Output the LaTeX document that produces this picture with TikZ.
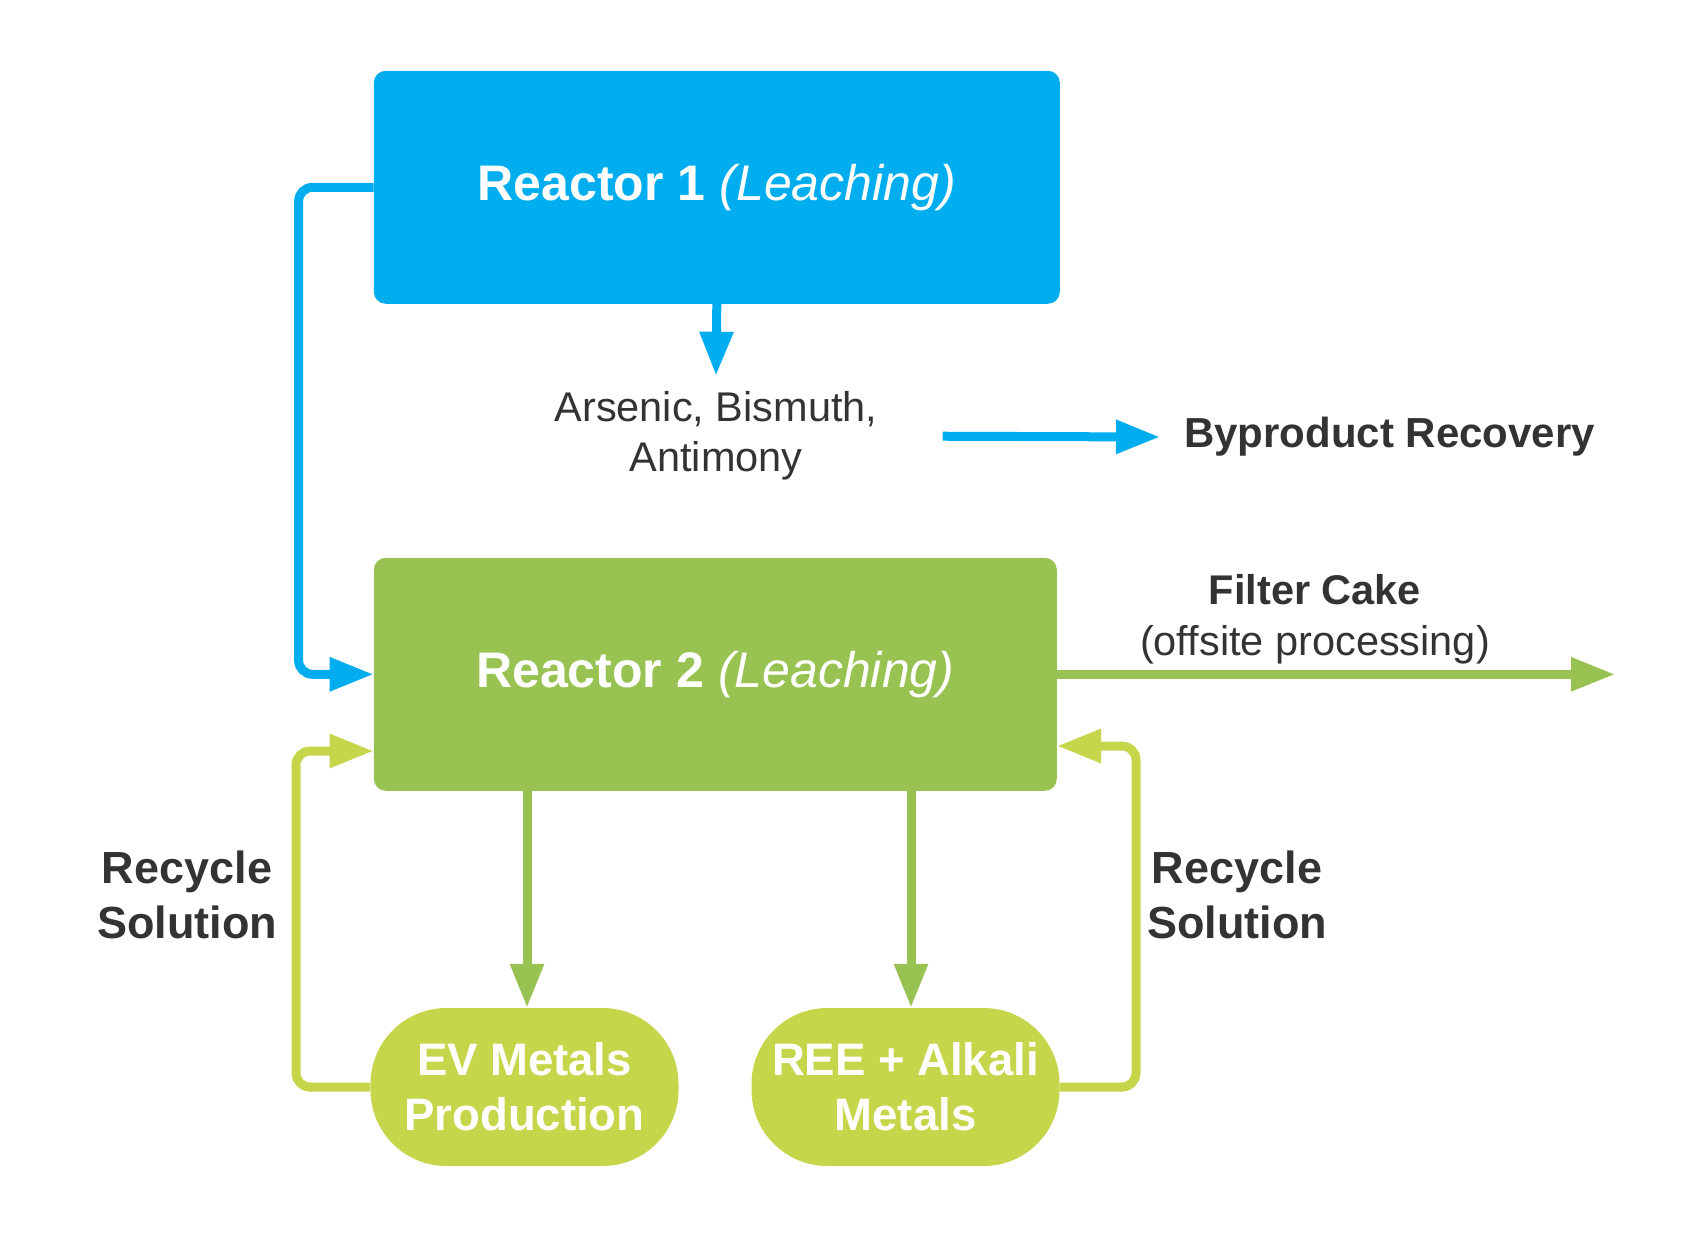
\documentclass[tikz,border=0pt]{standalone}
\usepackage{fontspec}
\setmainfont{Liberation Sans}
\usetikzlibrary{arrows.meta}
\definecolor{cblue}{RGB}{0,174,239}
\definecolor{cgreen}{RGB}{152,195,82}
\definecolor{clime}{RGB}{197,214,74}
\definecolor{ctext}{RGB}{51,51,51}
\begin{document}
\begin{tikzpicture}[x=1pt,y=-1pt,
  reactor/.style={rounded corners=12pt, minimum width=686pt, minimum height=233pt, text=white, inner sep=0pt, font=\fontsize{50}{58}\selectfont},
  pill/.style={fill=clime, rounded corners=76pt, minimum width=308pt, minimum height=158pt, text=white, align=center, inner sep=0pt, font=\fontsize{45.5}{55}\selectfont\bfseries},
  lbl/.style={text=ctext, align=center, inner sep=0pt},
  conn/.style={line width=9pt, -{Triangle[length=44pt,width=32pt]}},
  blueline/.style={conn, draw=cblue},
  greenline/.style={conn, draw=cgreen},
  limeline/.style={conn, draw=clime, rounded corners=14pt}]
\useasboundingbox (0,0) rectangle (1688,1238);
\fill[white] (0,0) rectangle (1688,1238);

\node[reactor, fill=cblue] (r1) at (716.8,187.3) {\textbf{Reactor 1} \textit{(Leaching)}};
\node[reactor, fill=cgreen, minimum width=683pt] (r2) at (715.3,674.3) {\textbf{Reactor 2} \textit{(Leaching)}};

\node[lbl, inner ysep=16pt, font=\fontsize{41.5}{49.5}\selectfont] (ars) at (716,436) {Arsenic, Bismuth,\\Antimony};
\node[lbl, anchor=west, inner xsep=24pt, font=\fontsize{42}{50}\selectfont\bfseries] (byp) at (1160,437) {Byproduct Recovery};

\node[lbl, anchor=south, font=\fontsize{41.5}{50.5}\selectfont] (fc) at (1315,664) {\textbf{Filter Cake}\\(offsite processing)};
\coordinate (fcend) at (1615,674.3);

\node[pill] (ev) at (524.5,1087) {EV Metals\\Production};
\node[pill] (ree) at (905.5,1087) {REE + Alkali\\Metals};

\node[lbl, font=\fontsize{45}{55}\selectfont\bfseries] (recl) at (187,895) {Recycle\\Solution};
\node[lbl, font=\fontsize{45}{55}\selectfont\bfseries] (recr) at (1237,895) {Recycle\\Solution};

% blue connectors
\draw[blueline, rounded corners=14pt] (r1.west) -- ++(-75,0) |- (r2.west);
\draw[blueline] (r1.south) -- (ars.north);
\draw[blueline, shorten <=65pt] (ars.east) -- (byp.west);

% green connectors
\draw[greenline] (r2.east) -- (fcend);
\draw[greenline] (r2.south -| 527,0) -- (ev.north -| 527,0);
\draw[greenline] (r2.south -| 911,0) -- (ree.north -| 911,0);

% recycle loops
\draw[limeline] (ev.west) -| (296,751) -- (r2.west |- 0,751);
\draw[limeline] (ree.east) -| (1136,746) -- (r2.east |- 0,746);
\end{tikzpicture}
\end{document}
